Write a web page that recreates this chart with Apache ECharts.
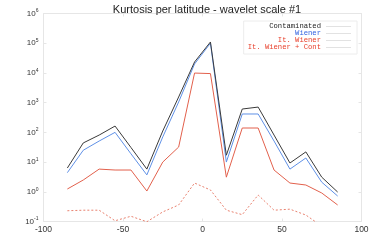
<!DOCTYPE html>
<html><head><meta charset="utf-8">
<script src="https://cdn.jsdelivr.net/npm/echarts@6/dist/echarts.min.js"></script>
<style>html,body{margin:0;padding:0;background:#fff}#c{width:375px;height:250px}</style>
</head><body><div id="c"></div>
<script>
var latitudes = [-85,-75,-65,-55,-45,-35,-25,-15,-5,5,15,25,35,45,55,65,75,85];
var contaminated = [6.3,44,81,163,31,5.8,111,1550,23300,110000,17,610,710,81,9.3,22,3.1,0.98];
var wiener = [4.4,25,51,100,19,3.7,70,1050,20000,100000,10,415,415,51,5.8,13.7,2.1,0.72];
var itWiener = [1.24,2.49,5.8,5.4,5.4,1.06,10,32,9900,9500,3.1,140,140,5.4,1.97,1.69,0.91,0.36];
var itWienerCont = [0.23,0.24,0.24,0.106,0.15,0.098,0.21,0.36,1.97,1.15,0.24,0.17,0.78,0.24,0.26,0.165,0.07,0.05];
var seriesNames = ['Contaminated','Wiener','It. Wiener','It. Wiener + Cont'];
var xTicks = [-100,-50,0,50,100];

function pairs(v){return latitudes.map(function(l,i){return [l,v[i]];});}
var chart = echarts.init(document.getElementById('c'));
var faint = '#e6e6e6';
var lineCol = ['#3a3a3a','#5f90e6','#e2604c','#e8806e'];
var txtCol = ['#222','#2d5fe0','#e8402c','#e8402c'];
var vals = [contaminated, wiener, itWiener, itWienerCont];
chart.setOption({
  animation:false,
  title:{text:'Kurtosis per latitude - wavelet scale #1', left:202, top:-1, textAlign:'center',
    textStyle:{fontFamily:'Liberation Sans', fontSize:11, fontWeight:'normal', color:'#222'}},
  grid:{left:43.5, right:13.5, top:13.5, bottom:28.5},
  legend:{orient:'vertical', right:18, top:21, align:'right', icon:'rect', itemWidth:25, itemHeight:1, itemGap:0,
    padding:[2,6,3,4], borderColor:'#ececec', borderWidth:1,
    itemStyle:{color:'#e2e2e2', borderWidth:0},
    textStyle:{fontFamily:'Liberation Mono', fontSize:7.2, lineHeight:7, padding:[0,0,0,0]},
    data:seriesNames.map(function(n,i){return {name:n, textStyle:{color:txtCol[i]}, itemStyle:{color:'#e2e2e2', borderWidth:0}};})},
  xAxis:[{type:'value', min:-100, max:100, interval:50,
    axisLine:{onZero:false, lineStyle:{color:faint}}, axisTick:{inside:true, length:3, lineStyle:{color:faint}},
    splitLine:{show:false},
    axisLabel:{color:'#333', fontSize:8.5, fontFamily:'Liberation Sans', margin:4,
      formatter:function(v){return xTicks.indexOf(v)>=0?String(v):'';}}},
    {type:'value', position:'top', min:-100, max:100, interval:50,
    axisLine:{show:true, onZero:false, lineStyle:{color:faint}}, axisTick:{show:true, inside:true, length:3, lineStyle:{color:faint}},
    axisLabel:{show:false}, splitLine:{show:false}}],
  yAxis:[{type:'log', logBase:10, min:0.1, max:1e6,
    axisLine:{show:true, onZero:false, lineStyle:{color:faint}}, axisTick:{show:true, inside:true, length:3, lineStyle:{color:faint}},
    splitLine:{show:false}, minorTick:{show:false},
    axisLabel:{margin:5, formatter:function(v){var e=Math.round(Math.log10(v));return '{b|10}{s|'+e+'}';},
      rich:{b:{fontSize:8, color:'#333', fontFamily:'Liberation Sans'}, s:{fontSize:5, color:'#333', fontFamily:'Liberation Sans', verticalAlign:'top', padding:[0,0,5,0]}}}},
    {type:'log', logBase:10, min:0.1, max:1e6, position:'right',
    axisLine:{show:true, onZero:false, lineStyle:{color:faint}}, axisTick:{show:true, inside:true, length:3, lineStyle:{color:faint}},
    axisLabel:{show:false}, splitLine:{show:false}}],
  series:seriesNames.map(function(n,i){return {name:n, type:'line', data:pairs(vals[i]), symbol:'none', clip:true,
    lineStyle:{color:lineCol[i], width:1, type:i===3?[2,2]:'solid'}, itemStyle:{color:lineCol[i]}, z:4-i};})
});
</script></body></html>
